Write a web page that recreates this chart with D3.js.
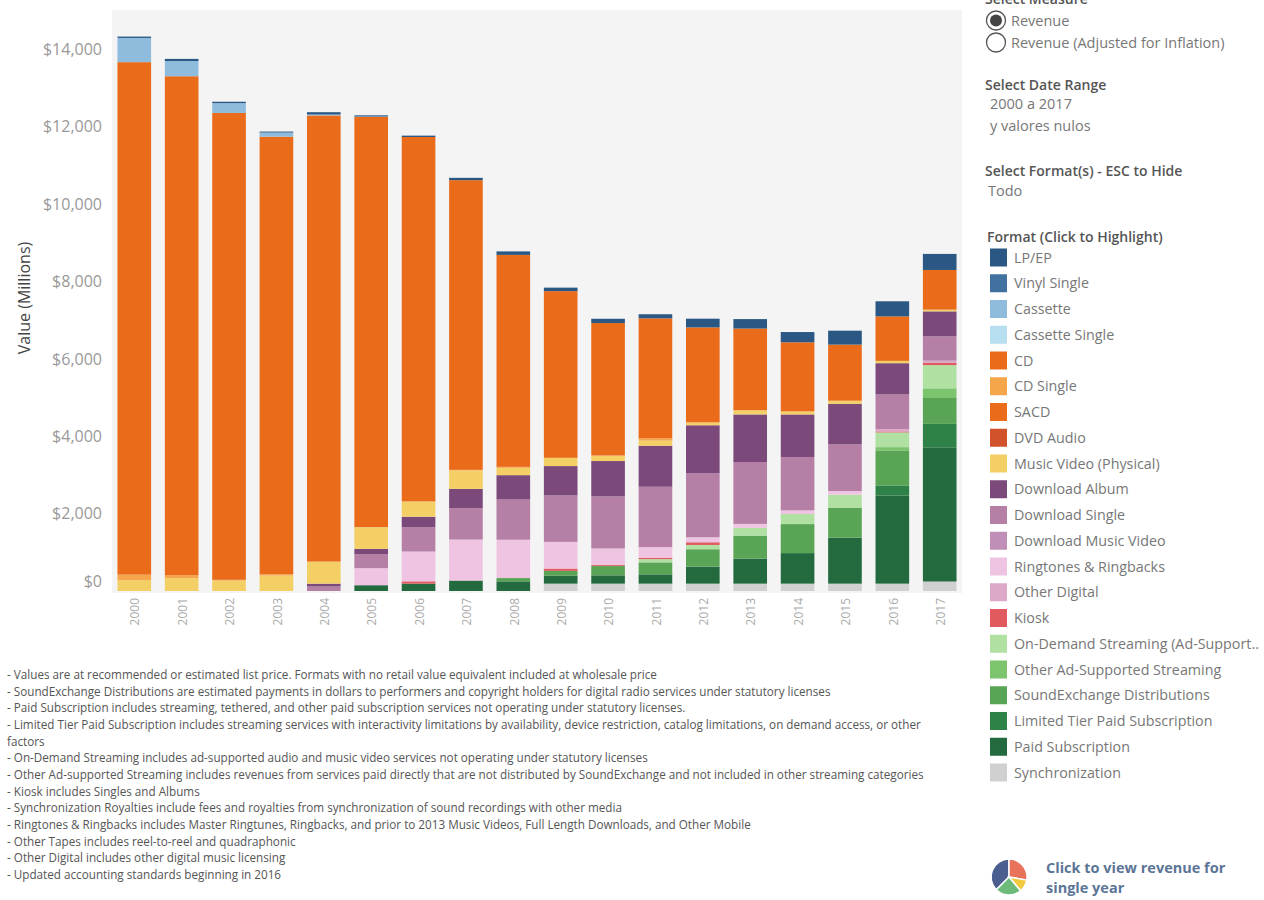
<!DOCTYPE html>
<html><head><meta charset="utf-8">
<script src="https://cdnjs.cloudflare.com/ajax/libs/d3/7.8.5/d3.min.js"></script>
<style>html,body{margin:0;padding:0;background:#fff;overflow:hidden}svg{display:block}text{font-family:"Open Sans",sans-serif}</style>
</head><body><svg id="c" width="1264" height="900"></svg>
<script>
const years=["2000","2001","2002","2003","2004","2005","2006","2007","2008","2009","2010","2011","2012","2013","2014","2015","2016","2017"];
const formats=["LP/EP","Vinyl Single","Cassette","Cassette Single","CD","CD Single","SACD","DVD Audio","Music Video (Physical)","Download Album","Download Single","Download Music Video","Ringtones & Ringbacks","Other Digital","Kiosk","On-Demand Streaming (Ad-Supported)","Other Ad-Supported Streaming","SoundExchange Distributions","Limited Tier Paid Subscription","Paid Subscription","Synchronization"];
const legendLabels=["LP/EP","Vinyl Single","Cassette","Cassette Single","CD","CD Single","SACD","DVD Audio","Music Video (Physical)","Download Album","Download Single","Download Music Video","Ringtones & Ringbacks","Other Digital","Kiosk","On-Demand Streaming (Ad-Support..","Other Ad-Supported Streaming","SoundExchange Distributions","Limited Tier Paid Subscription","Paid Subscription","Synchronization"];
const colors=["#2a5783","#41719f","#8fbcdc","#b7dff0","#ea6b1a","#f5a54a","#ea6b1a","#d1522a","#f3cf65","#7c4a7a","#b57fa6","#c08fb8","#eec4e2","#dca9c9","#e05a5f","#b0e0a2","#7dc46f","#5aa555","#2f8247","#236b3f","#d0d0d0"];
const lpEp=[35,55,35,25,60,30,35,60,90,90,110,105,225,245,265,360,390,415];
const vinylSingle=[0,0,0,0,0,0,0,0,0,0,0,0,0,0,0,0,0,0];
const cassette=[626,393,255,108,24,13,0,0,0,0,0,0,0,0,0,0,0,0];
const cassetteSingle=[0,0,0,0,0,0,0,0,0,0,0,0,0,0,0,0,0,0];
const cd=[13250,12900,12070,11310,11530,10600,9420,7490,5480,4310,3425,3100,2445,2110,1785,1450,1150,1025];
const cdSingle=[142,79,19,36,15,10,8,12,25,3,3,60,20,0,0,0,0,0];
const sacd=[0,0,0,0,0,0,0,0,0,0,0,0,0,0,0,0,0,0];
const dvdAudio=[0,0,0,0,0,0,0,0,0,0,0,0,0,0,0,0,0,0];
const musicVideo=[281,330,270,399,560,555,390,480,190,210,140,135,65,110,80,80,60,45];
const downloadAlbum=[0,0,0,0,75,135,270,500,630,760,915,1060,1240,1230,1100,1050,810,645];
const downloadSingle=[0,0,0,0,115,365,630,810,1040,1200,1345,1560,1655,1600,1380,1205,895,630];
const downloadMusicVideo=[0,0,0,0,0,0,0,0,0,0,0,0,0,0,0,0,0,0];
const ringtones=[0,0,0,0,0,440,770,1060,990,690,430,275,130,100,95,95,0,0];
const otherDigital=[0,0,0,0,0,0,0,0,0,0,0,0,0,0,0,0,60,60];
const kiosk=[0,0,0,0,0,0,60,0,0,60,25,35,70,0,0,0,25,55];
const onDemand=[0,0,0,0,0,0,0,0,0,0,0,85,110,205,260,335,380,600];
const otherAd=[0,0,0,0,0,0,0,0,0,0,0,0,0,0,0,0,85,250];
const soundExchange=[0,0,0,0,0,0,0,0,85,120,240,310,450,595,750,775,905,670];
const limitedTier=[0,0,0,0,0,0,0,0,0,0,0,0,0,0,0,0,260,605];
const paidSub=[0,0,0,0,0,150,190,270,250,210,215,240,440,645,790,1190,2280,3470];
const sync=[0,0,0,0,0,0,0,0,0,190,190,190,190,190,190,190,190,245];
const seriesValues=[lpEp,vinylSingle,cassette,cassetteSingle,cd,cdSingle,sacd,dvdAudio,musicVideo,downloadAlbum,downloadSingle,downloadMusicVideo,ringtones,otherDigital,kiosk,onDemand,otherAd,soundExchange,limitedTier,paidSub,sync];
const yTicks=[0,2000,4000,6000,8000,10000,12000,14000];
const notes=["- Values are at recommended or estimated list price. Formats with no retail value equivalent included at wholesale price",
"- SoundExchange Distributions are estimated payments in dollars to performers and copyright holders for digital radio services under statutory licenses",
"- Paid Subscription includes streaming, tethered, and other paid subscription services not operating under statutory licenses.",
"- Limited Tier Paid Subscription includes streaming services with interactivity limitations by availability, device restriction, catalog limitations, on demand access, or other",
"factors",
"- On-Demand Streaming includes ad-supported audio and music video services not operating under statutory licenses",
"- Other Ad-supported Streaming includes revenues from services paid directly that are not distributed by SoundExchange and not included in other streaming categories",
"- Kiosk includes Singles and Albums",
"- Synchronization Royalties include fees and royalties from synchronization of sound recordings with other media",
"- Ringtones & Ringbacks includes Master Ringtunes, Ringbacks, and prior to 2013 Music Videos, Full Length Downloads, and Other Mobile",
"- Other Tapes includes reel-to-reel and quadraphonic",
"- Other Digital includes other digital music licensing",
"- Updated accounting standards beginning in 2016"];
const pieShares=[135,100,40,85];
const pieColors=["#4a5f8f","#e8735a","#f0c93f","#6dbb7a"];

const svg=d3.select("#c");
const x=d3.scaleBand().domain(years).range([110.6,963.4]).paddingInner(0.29).paddingOuter(0.145);
const y=d3.scaleLinear().domain([0,14000]).range([591,49.5]);
svg.append("rect").attr("x",112).attr("y",10).attr("width",850).attr("height",583).attr("fill","#f4f4f5");

const table=years.map((yr,i)=>{const o={year:yr};formats.forEach((f,j)=>o[f]=seriesValues[j][i]);return o;});
const stacked=d3.stack().keys(formats.slice().reverse())(table);
const col=d3.scaleOrdinal(formats,colors);
svg.append("g").selectAll("g").data(stacked).join("g").attr("fill",d=>col(d.key))
 .selectAll("rect").data(d=>d.filter(p=>p[1]>p[0])).join("rect")
 .attr("x",d=>x(d.data.year)).attr("width",x.bandwidth())
 .attr("y",d=>y(d[1])).attr("height",d=>y(d[0])-y(d[1]));

const ya=svg.append("g").attr("transform","translate(110,0)").call(d3.axisLeft(y).tickValues(yTicks).tickSize(0).tickPadding(8).tickFormat(d=>"$"+d3.format(",")(d)));
ya.select(".domain").remove();
ya.selectAll("text").attr("fill","#999").style("font-size","16px").style("font-family",'"Open Sans",sans-serif')
  .attr("dy",d=>d===0?"-0.3em":"0.32em");

const xa=svg.append("g").attr("transform","translate(0,593)").call(d3.axisBottom(x).tickSize(0).tickPadding(0));
xa.select(".domain").remove();
xa.selectAll("text").attr("fill","#aaa").style("font-size","12px").style("font-family",'"Open Sans",sans-serif')
  .attr("text-anchor","end").attr("dy","0.35em").attr("x",0).attr("y",0).attr("transform","translate(1,5) rotate(-90)");

svg.append("text").attr("transform","translate(24,298) rotate(-90)").attr("text-anchor","middle").attr("dy","0.35em")
 .attr("fill","#444").style("font-size","16px").text("Value (Millions)");

svg.append("g").selectAll("text").data(notes).join("text").attr("x",7)
 .attr("y",(d,i)=>675+i*16.65).attr("dy","0.35em").attr("fill","#555").style("font-size","11.7px").text(d=>d);

const heading=(t,yy)=>svg.append("text").attr("x",985).attr("y",yy).attr("dy","0.35em").attr("fill","#555").style("font-size","14px").style("font-weight",600).text(t);
const val=(t,xx,yy)=>svg.append("text").attr("x",xx).attr("y",yy).attr("dy","0.35em").attr("fill","#777").style("font-size","14.5px").text(t);
heading("Select Measure",-1);
svg.append("circle").attr("cx",996).attr("cy",20.5).attr("r",9.5).attr("fill","#fff").attr("stroke","#555").attr("stroke-width",1.3);
svg.append("circle").attr("cx",996).attr("cy",20.5).attr("r",6).attr("fill","#444");
svg.append("circle").attr("cx",996).attr("cy",42.5).attr("r",9.5).attr("fill","#fff").attr("stroke","#555").attr("stroke-width",1.3);
val("Revenue",1011,20.5);val("Revenue (Adjusted for Inflation)",1011,42.5);
heading("Select Date Range",85);val("2000 a 2017",990,104);val("y valores nulos",990,126);
heading("Select Format(s) - ESC to Hide",171.5);val("Todo",988,191);
svg.append("text").attr("x",987).attr("y",237).attr("dy","0.35em").attr("fill","#555").style("font-size","14px").style("font-weight",600).text("Format (Click to Highlight)");

const lg=svg.append("g").selectAll("g").data(legendLabels).join("g").attr("transform",(d,i)=>`translate(990,${257.5+i*25.75})`);
lg.append("rect").attr("x",0).attr("y",-9).attr("width",17).attr("height",18).attr("fill",(d,i)=>colors[i]);
lg.append("text").attr("x",24).attr("dy","0.35em").attr("fill","#777").style("font-size","14.3px").text(d=>d);

const pie=d3.pie().sort(null).startAngle(-Math.PI*0.75).endAngle(Math.PI*1.25)(pieShares);
const arc=d3.arc().innerRadius(0).outerRadius(18);
svg.append("g").attr("transform","translate(1009,877)").selectAll("path").data(pie).join("path")
 .attr("d",arc).attr("fill",(d,i)=>pieColors[i]).attr("stroke","#fff").attr("stroke-width",1.5);
svg.append("text").attr("x",1046).attr("y",868).attr("dy","0.35em").attr("fill","#5b7596").style("font-size","14.5px").style("font-weight",700).text("Click to view revenue for");
svg.append("text").attr("x",1046).attr("y",888).attr("dy","0.35em").attr("fill","#5b7596").style("font-size","14.5px").style("font-weight",700).text("single year");
</script></body></html>
